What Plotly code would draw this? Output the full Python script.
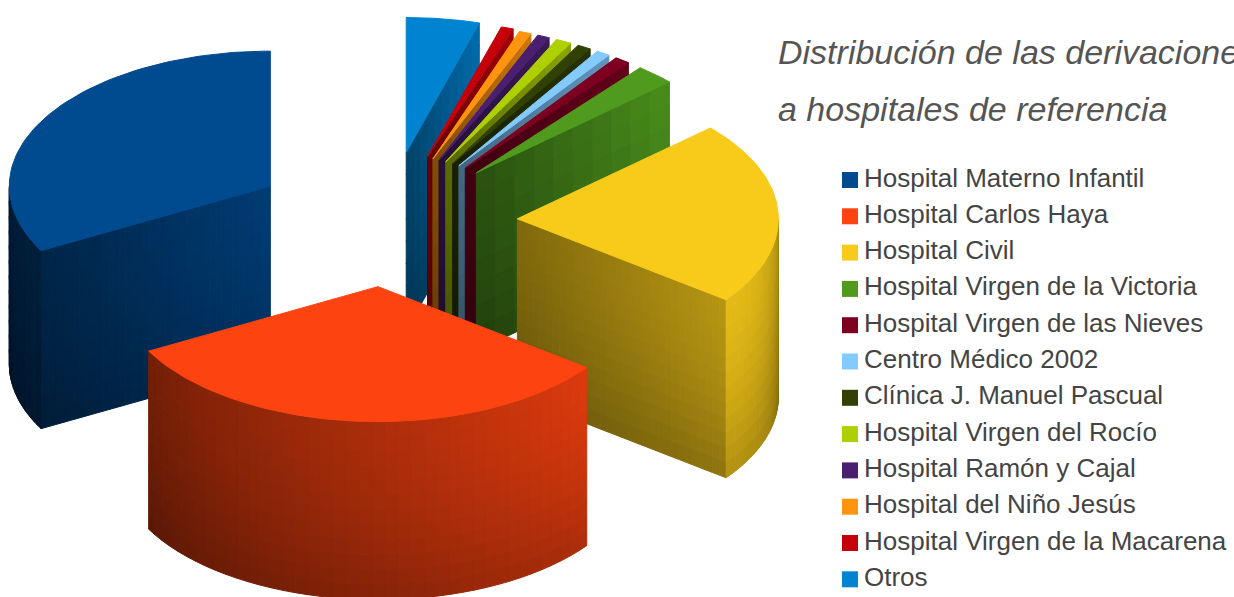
import math
import plotly.graph_objects as go

categories = ["Hospital Materno Infantil", "Hospital Carlos Haya", "Hospital Civil",
              "Hospital Virgen de la Victoria", "Hospital Virgen de las Nieves",
              "Centro Médico 2002", "Clínica J. Manuel Pascual", "Hospital Virgen del Rocío",
              "Hospital Ramón y Cajal", "Hospital del Niño Jesús",
              "Hospital Virgen de la Macarena", "Otros"]
values = [32.8, 31.7, 21.9, 2.5, 1.0, 0.9, 0.9, 1.0, 0.8, 0.8, 0.8, 4.5]
colors = ["#004a8f", "#fc4310", "#f8cb1a", "#509a1e", "#7e0021", "#83caff", "#314004",
          "#aecf00", "#4b1f6f", "#ff950e", "#c5000b", "#0084d1"]
pulls = [0.52, 0.48, 0.50, 0.50, 0.50, 0.50, 0.50, 0.50, 0.50, 0.50, 0.51, 0.52]
# light factor of the extruded sides: start / end along the face, left to right
side_face = [(0.50, 0.82), (1, 1), (0.52, 0.74), (0.52, 0.92), (0.5, 0.8), (0.5, 0.75), (0.5, 0.8),
             (0.5, 0.8), (0.5, 0.8), (0.5, 0.8), (0.5, 0.8), (0.5, 0.82)]
arc_light = [(0.38, 0.42), (0.46, 0.88), (0.92, 0.62)] + [(0.6, 0.6)] * 9

CX, CY, RX, RY, DEPTH = 387, 222, 261, 135, 178
TITLE = ["Distribución de las derivaciones", "a hospitales de referencia"]


def hexrgb(h):
    return tuple(int(h[i:i + 2], 16) for i in (1, 3, 5))


def shade(h, f):
    r, g, b = hexrgb(h)
    return f"rgb({int(r * f)},{int(g * f)},{int(b * f)})"


def poly(xs, ys, color):
    return go.Scatter(x=xs + xs[:1], y=ys + ys[:1], mode="lines", fill="toself", fillcolor=color,
                      line=dict(color=color, width=1), hoverinfo="skip", showlegend=False)


def band(x0, y0, x1, y1, f0, f1, n, rows):
    """Extruded strip between two top points, with a light ramp."""
    out = []
    for i in range(n):
        a, b = i / n, (i + 1) / n
        xa, ya = x0 + (x1 - x0) * a, y0 + (y1 - y0) * a
        xb, yb = x0 + (x1 - x0) * b, y0 + (y1 - y0) * b
        f = f0 + (f1 - f0) * (a + b) / 2
        for r in range(rows):
            t0, t1 = r / rows, (r + 1) / rows
            v = 1.0 - 0.22 * ((t0 + t1) / 2) ** 1.6
            out.append((xa, xb, ya, yb, t0, t1, f * v))
    return out


fig = go.Figure()
total = sum(values)
# clockwise from twelve o'clock, legend order reversed
spans = []
t = 0.0
for i in reversed(range(len(values))):
    sweep = values[i] / total * 360
    spans.append((i, t, t + sweep))
    t += sweep


def pt(ax, ay, deg):
    r = math.radians(deg)
    return ax + RX * math.sin(r), ay - RY * math.cos(r)


draw_order = [i for i, _, _ in spans if i > 2] + [0, 2, 1]
span_by = {i: (a, b) for i, a, b in spans}
for i in draw_order:
    t1, t2 = span_by[i]
    mid = math.radians((t1 + t2) / 2)
    ax = CX + RX * pulls[i] * math.sin(mid)
    ay = CY - RY * pulls[i] * math.cos(mid)
    col = colors[i]
    cells = []
    big = i <= 2
    n = 30 if big else 10
    rows = 12 if big else 8
    if math.sin(math.radians(t1)) < -1e-6:
        p = pt(ax, ay, t1)
        cells += band(p[0], p[1], ax, ay, *side_face[i], n, rows)
    if math.sin(math.radians(t2)) > 1e-6:
        p = pt(ax, ay, t2)
        cells += band(ax, ay, p[0], p[1], *side_face[i], n, rows)
    lo, hi = max(t1, 90), min(t2, 270)
    if hi > lo:
        m = 40 if big else 6
        for k in range(m):
            d0, d1 = lo + (hi - lo) * k / m, lo + (hi - lo) * (k + 1) / m
            p0, p1 = pt(ax, ay, d0), pt(ax, ay, d1)
            # arc runs right to left as the angle grows
            f = arc_light[i][1] + (arc_light[i][0] - arc_light[i][1]) * (k + 0.5) / m
            if i == 2:
                f = arc_light[i][0] - (arc_light[i][0] - arc_light[i][1]) * (1 - (k + 0.5) / m) ** 2
            cells += band(p0[0], p0[1], p1[0], p1[1], f, f, 1, rows)
    for xa, xb, ya, yb, r0, r1, f in cells:
        fig.add_trace(poly([xa, xb, xb, xa],
                           [ya + DEPTH * r0, yb + DEPTH * r0, yb + DEPTH * r1, ya + DEPTH * r1],
                           shade(col, f)))
    # top face
    deg = [t1 + (t2 - t1) * k / 80 for k in range(81)]
    outer = [pt(ax, ay, d) for d in deg]
    fig.add_trace(poly([ax] + [p[0] for p in outer], [ay] + [p[1] for p in outer], col))

# legend rows as real text and square markers
rows_y = [180 + 36.3 * k for k in range(len(categories))]
fig.add_trace(go.Scatter(x=[850] * len(categories), y=rows_y, mode="markers",
                         marker=dict(symbol="square", size=16, color=colors),
                         hoverinfo="skip", showlegend=False))
fig.add_trace(go.Scatter(x=[864] * len(categories), y=rows_y, mode="text",
                         text=categories, textposition="middle right",
                         textfont=dict(family="Liberation Sans", size=26, color="#444444"),
                         cliponaxis=False, hoverinfo="skip", showlegend=False))

annotations = [dict(x=776, y=y, xref="x", yref="y", text=f"<i>{s}</i>", showarrow=False,
                    xanchor="left", yanchor="middle",
                    font=dict(family="Liberation Sans", size=34, color="#555555"))
               for s, y in zip(TITLE, (52, 109))]

fig.update_layout(width=1234, height=597, margin=dict(l=0, r=0, t=0, b=0), showlegend=False,
                  paper_bgcolor="white", plot_bgcolor="white", annotations=annotations,
                  xaxis=dict(range=[0, 1234], visible=False, fixedrange=True),
                  yaxis=dict(range=[597, 0], visible=False, fixedrange=True))
fig.write_html("out.html", config={"displayModeBar": False},
               post_script="document.body.style.margin=0;document.body.style.overflow='hidden';")
